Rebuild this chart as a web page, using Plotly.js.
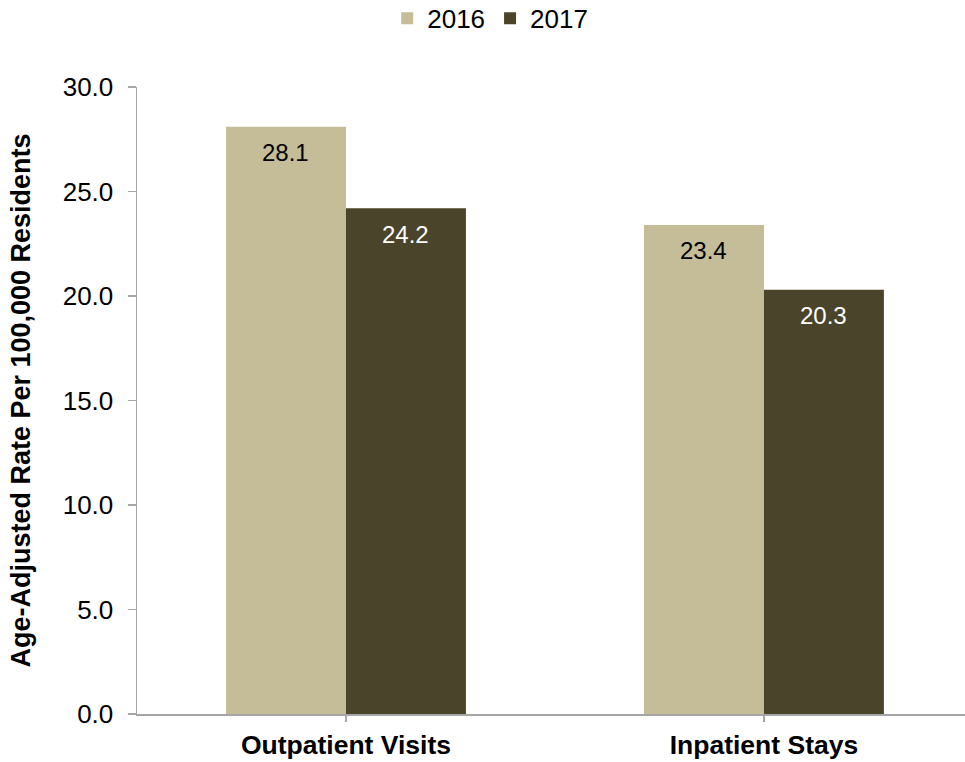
<!DOCTYPE html>
<html>
<head>
<meta charset="utf-8">
<script src="https://cdn.plot.ly/plotly-3.0.1.min.js"></script>
<style>html,body{margin:0;padding:0;background:#fff;}#chart{width:965px;height:762px;}</style>
</head>
<body>
<div id="chart"></div>
<script>
const categories = ["Outpatient Visits", "Inpatient Stays"];
const years = ["2016", "2017"];
const values2016 = [28.1, 23.4];
const values2017 = [24.2, 20.3];
const yTicks = [0, 5, 10, 15, 20, 25, 30];

const colors = ["#C4BD97", "#4A452A"];
const labelColors = ["#000000", "#FFFFFF"];
const series = [values2016, values2017];
const FONT = "Arial, 'Liberation Sans', sans-serif";

const traces = series.map((vals, i) => ({
  type: "bar",
  name: years[i],
  x: categories,
  y: vals,
  marker: {color: colors[i], line: {width: 0}},
  hoverinfo: "skip"
}));

const annotations = [];
series.forEach((vals, i) => {
  vals.forEach((v, j) => {
    annotations.push({
      x: categories[j], y: v, xref: "x", yref: "y",
      xshift: (i === 0 ? -60 : 60), yshift: -26,
      yanchor: "middle", xanchor: "center",
      text: v.toFixed(1), showarrow: false,
      font: {family: FONT, size: 24, color: labelColors[i]}
    });
  });
});

const layout = {
  width: 965, height: 762,
  margin: {l: 137, r: 0, t: 87, b: 48, autoexpand: false},
  paper_bgcolor: "#fff", plot_bgcolor: "#fff",
  font: {family: FONT, color: "#000"},
  barmode: "group",
  bargap: 0.426, bargroupgap: 0,
  showlegend: true,
  legend: {
    orientation: "h", xref: "container", yref: "container",
    x: 0.508, xanchor: "center", y: 0.976, yanchor: "middle",
    font: {size: 26, color: "#000"}, traceorder: "normal"
  },
  xaxis: {
    type: "category", range: [-0.5, 1.481], automargin: false,
    showline: true, linecolor: "#A6A6A6", linewidth: 1.5,
    ticks: "outside", ticklen: 6, tickcolor: "#A6A6A6", tickwidth: 1.5,
    ticklabelstandoff: 1,
    tickfont: {size: 26.5, color: "#000", family: FONT, weight: "bold"},
    showgrid: false, zeroline: false, fixedrange: true
  },
  yaxis: {
    range: [0, 30], tickvals: yTicks, ticktext: yTicks.map(t => t.toFixed(1)),
    automargin: false,
    showline: true, linecolor: "#A6A6A6", linewidth: 1.5,
    ticks: "outside", ticklen: 8, tickcolor: "#A6A6A6", tickwidth: 1.5,
    ticklabelstandoff: 9,
    tickfont: {size: 26, color: "#000"},
    showgrid: false, zeroline: false, fixedrange: true,
    title: {text: "<b>Age-Adjusted Rate Per 100,000 Residents</b>", font: {size: 27, color: "#000"}, standoff: 24}
  },
  annotations: annotations
};

Plotly.newPlot("chart", traces, layout, {displayModeBar: false, staticPlot: true});
</script>
</body>
</html>
